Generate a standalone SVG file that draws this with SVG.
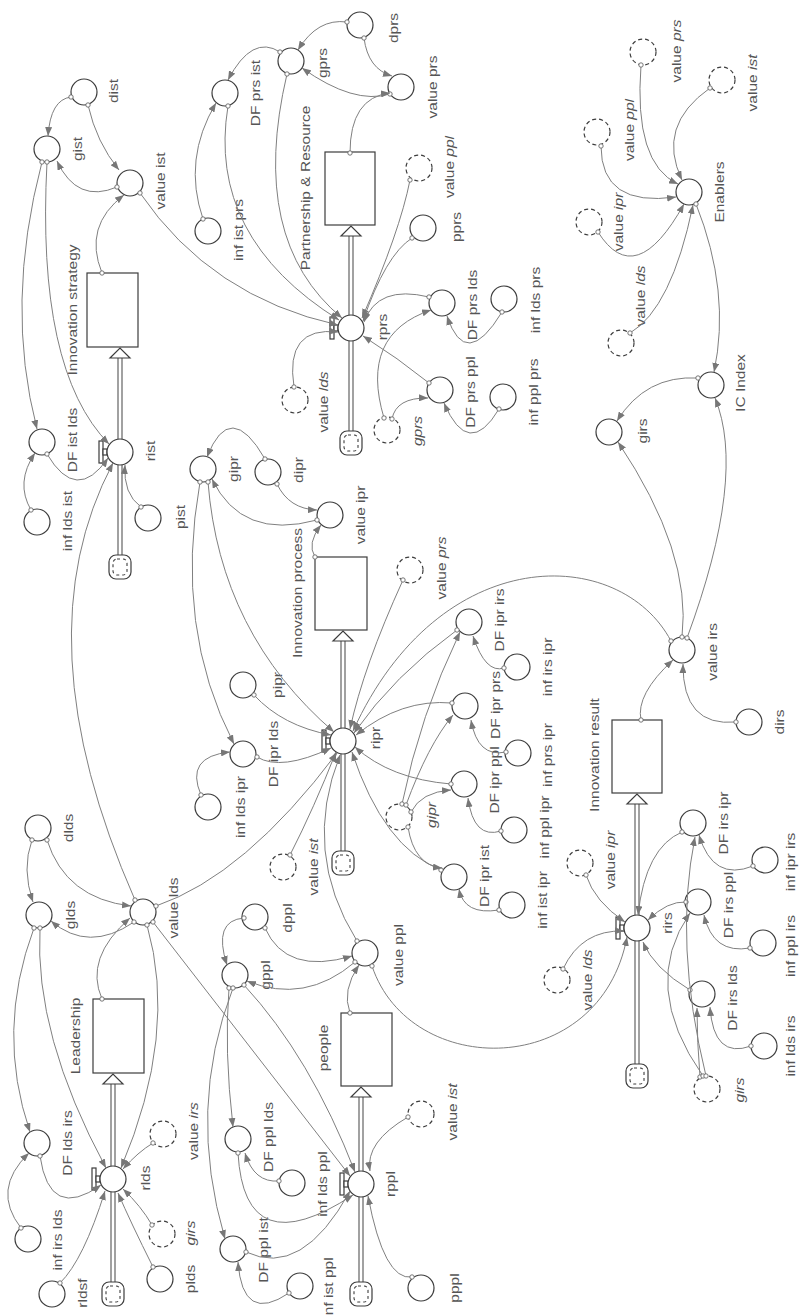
<svg xmlns="http://www.w3.org/2000/svg" width="799" height="1316" viewBox="0 0 799 1316">
<defs>
<marker id="ah" viewBox="0 0 9 7" refX="9" refY="3.5" markerWidth="9" markerHeight="7" markerUnits="userSpaceOnUse" orient="auto"><path d="M0,0 L9,3.5 L0,7 z" fill="#777"/></marker>
<marker id="tl" viewBox="0 0 6 6" refX="3" refY="3" markerWidth="6" markerHeight="6" markerUnits="userSpaceOnUse"><circle cx="3" cy="3" r="2.2" fill="#fff" stroke="#666" stroke-width="0.9"/></marker>
</defs>
<style>
.n circle,.n rect,.n polygon{fill:#fff;stroke:#3c3c3c;stroke-width:1.2}
.gh circle{stroke-dasharray:4 3}
text{font-family:"Liberation Sans",Arial,sans-serif;font-size:13.5px;fill:#555;text-anchor:middle;dominant-baseline:central}
.c path{fill:none;stroke:#808080;stroke-width:1;marker-start:url(#tl);marker-end:url(#ah)}
.pipe{fill:none;stroke:#444;stroke-width:5}
.pipei{fill:none;stroke:#fff;stroke-width:3}
.n rect.cli{fill:none;stroke-width:1.1;stroke-dasharray:3 3}
.it{font-style:italic}
</style>
<rect width="799" height="1316" fill="#fff"/>

<!-- stocks -->
<g id="InnovationStrategy" class="n"><rect x="87" y="273" width="51" height="74"/><text transform="translate(72 310) rotate(-90) scale(1.15 1)">Innovation strategy</text></g>
<g id="PartnershipResource" class="n"><rect x="325" y="152" width="50" height="73"/><text transform="translate(305 188) rotate(-90) scale(1.15 1)">Partnership &amp; Resource</text></g>
<g id="InnovationProcess" class="n"><rect x="315" y="557" width="52" height="73"/><text transform="translate(297 593) rotate(-90) scale(1.15 1)">Innovation process</text></g>
<g id="InnovationResult" class="n"><rect x="612" y="720" width="50" height="73"/><text transform="translate(594 755) rotate(-90) scale(1.15 1)">Innovation result</text></g>
<g id="Leadership" class="n"><rect x="93" y="999" width="51" height="74"/><text transform="translate(75 1036) rotate(-90) scale(1.15 1)">Leadership</text></g>
<g id="people" class="n"><rect x="341" y="1013" width="51" height="73"/><text transform="translate(323 1048) rotate(-90) scale(1.15 1)">people</text></g>

<!-- flows with pipes, valves, clouds -->
<g id="rist" class="n">
<path class="pipe" d="M120 556V358"/><path class="pipei" d="M120 556V358"/><polygon points="110,358 130,358 120,348"/>
<rect x="109" y="555" width="22" height="24" rx="7"/><rect class="cli" x="113" y="559" width="14" height="16" rx="4"/>
<rect x="99" y="441" width="4" height="22"/><rect x="103" y="449" width="4" height="6"/>
<circle cx="120" cy="452" r="13"/><text transform="translate(150 451) rotate(-90) scale(1.15 1)">rist</text></g>
<g id="rprs" class="n">
<path class="pipe" d="M351 432V236"/><path class="pipei" d="M351 432V236"/><polygon points="341,236 361,236 351,226"/>
<rect x="340" y="431" width="22" height="24" rx="7"/><rect class="cli" x="344" y="435" width="14" height="16" rx="4"/>
<rect x="330" y="317" width="4" height="22"/><rect x="334" y="325" width="4" height="6"/>
<circle cx="351" cy="328" r="13"/><text transform="translate(382 327) rotate(-90) scale(1.15 1)">rprs</text></g>
<g id="ripr" class="n">
<path class="pipe" d="M343 852V641"/><path class="pipei" d="M343 852V641"/><polygon points="333,641 353,641 343,631"/>
<rect x="332" y="851" width="22" height="24" rx="7"/><rect class="cli" x="336" y="855" width="14" height="16" rx="4"/>
<rect x="322" y="730" width="4" height="22"/><rect x="326" y="738" width="4" height="6"/>
<circle cx="343" cy="741" r="13"/><text transform="translate(375 738) rotate(-90) scale(1.15 1)">ripr</text></g>
<g id="rirs" class="n">
<path class="pipe" d="M637 1065V804"/><path class="pipei" d="M637 1065V804"/><polygon points="627,804 647,804 637,794"/>
<rect x="626" y="1064" width="22" height="24" rx="7"/><rect class="cli" x="630" y="1068" width="14" height="16" rx="4"/>
<rect x="616" y="917" width="4" height="22"/><rect x="620" y="925" width="4" height="6"/>
<circle cx="637" cy="928" r="13"/><text transform="translate(667 923) rotate(-90) scale(1.15 1)">rirs</text></g>
<g id="rlds" class="n">
<path class="pipe" d="M113 1283V1084"/><path class="pipei" d="M113 1283V1084"/><polygon points="103,1084 123,1084 113,1074"/>
<rect x="102" y="1282" width="22" height="24" rx="7"/><rect class="cli" x="106" y="1286" width="14" height="16" rx="4"/>
<rect x="92" y="1168" width="4" height="22"/><rect x="96" y="1176" width="4" height="6"/>
<circle cx="113" cy="1179" r="13"/><text transform="translate(145 1178) rotate(-90) scale(1.15 1)">rlds</text></g>
<g id="rppl" class="n">
<path class="pipe" d="M361 1283V1097"/><path class="pipei" d="M361 1283V1097"/><polygon points="351,1097 371,1097 361,1087"/>
<rect x="350" y="1282" width="22" height="24" rx="7"/><rect class="cli" x="354" y="1286" width="14" height="16" rx="4"/>
<rect x="340" y="1173" width="4" height="22"/><rect x="344" y="1181" width="4" height="6"/>
<circle cx="361" cy="1184" r="13"/><text transform="translate(390 1184) rotate(-90) scale(1.15 1)">rppl</text></g>

<!-- auxiliaries -->
<g id="dist" class="n"><circle cx="84" cy="92" r="13"/><text transform="translate(113 91) rotate(-90) scale(1.15 1)">dist</text></g>
<g id="gist" class="n"><circle cx="47" cy="149" r="13"/><text transform="translate(77 149) rotate(-90) scale(1.15 1)">gist</text></g>
<g id="value_ist" class="n"><circle cx="130" cy="183" r="13"/><text transform="translate(160 181) rotate(-90) scale(1.15 1)">value ist</text></g>
<g id="DF_ist_lds" class="n"><circle cx="42" cy="442" r="13"/><text transform="translate(72 440) rotate(-90) scale(1.15 1)">DF ist lds</text></g>
<g id="inf_lds_ist" class="n"><circle cx="37" cy="522" r="13"/><text transform="translate(67 521) rotate(-90) scale(1.15 1)">inf lds ist</text></g>
<g id="pist" class="n"><circle cx="148" cy="518" r="13"/><text transform="translate(180 517) rotate(-90) scale(1.15 1)">pist</text></g>
<g id="gipr" class="n"><circle cx="203" cy="469" r="13"/><text transform="translate(233 469) rotate(-90) scale(1.15 1)">gipr</text></g>
<g id="dipr" class="n"><circle cx="268" cy="472" r="13"/><text transform="translate(298 470) rotate(-90) scale(1.15 1)">dipr</text></g>
<g id="value_ipr" class="n"><circle cx="330" cy="515" r="13"/><text transform="translate(360 515) rotate(-90) scale(1.15 1)">value ipr</text></g>
<g id="dprs" class="n"><circle cx="360" cy="25" r="13"/><text transform="translate(393 28) rotate(-90) scale(1.15 1)">dprs</text></g>
<g id="gprs" class="n"><circle cx="291" cy="61" r="13"/><text transform="translate(322 63) rotate(-90) scale(1.15 1)">gprs</text></g>
<g id="DF_prs_ist" class="n"><circle cx="225" cy="93" r="13"/><text transform="translate(255 93) rotate(-90) scale(1.15 1)">DF prs ist</text></g>
<g id="inf_ist_prs" class="n"><circle cx="208" cy="231" r="13"/><text transform="translate(238 230) rotate(-90) scale(1.15 1)">inf ist prs</text></g>
<g id="value_prs" class="n"><circle cx="401" cy="87" r="13"/><text transform="translate(432 87) rotate(-90) scale(1.15 1)">value prs</text></g>
<g id="pprs" class="n"><circle cx="423" cy="228" r="13"/><text transform="translate(456 227) rotate(-90) scale(1.15 1)">pprs</text></g>
<g id="DF_prs_lds" class="n"><circle cx="442" cy="303" r="13"/><text transform="translate(472 305) rotate(-90) scale(1.15 1)">DF prs lds</text></g>
<g id="inf_lds_prs" class="n"><circle cx="504" cy="299" r="13"/><text transform="translate(535 300) rotate(-90) scale(1.15 1)">inf lds prs</text></g>
<g id="DF_prs_ppl" class="n"><circle cx="440" cy="390" r="13"/><text transform="translate(470 392) rotate(-90) scale(1.15 1)">DF prs ppl</text></g>
<g id="inf_ppl_prs" class="n"><circle cx="503" cy="397" r="13"/><text transform="translate(533 392) rotate(-90) scale(1.15 1)">inf ppl prs</text></g>
<g id="Enablers" class="n"><circle cx="689" cy="192" r="13"/><text transform="translate(719 192) rotate(-90) scale(1.15 1)">Enablers</text></g>
<g id="IC_Index" class="n"><circle cx="711" cy="385" r="13"/><text transform="translate(740 383) rotate(-90) scale(1.15 1)">IC Index</text></g>
<g id="girs" class="n"><circle cx="609" cy="432" r="13"/><text transform="translate(642 431) rotate(-90) scale(1.15 1)">girs</text></g>
<g id="value_irs" class="n"><circle cx="682" cy="650" r="13"/><text transform="translate(712 652) rotate(-90) scale(1.15 1)">value irs</text></g>
<g id="dirs" class="n"><circle cx="749" cy="722" r="13"/><text transform="translate(779 722) rotate(-90) scale(1.15 1)">dirs</text></g>
<g id="DF_ipr_irs" class="n"><circle cx="469" cy="622" r="13"/><text transform="translate(499 620) rotate(-90) scale(1.15 1)">DF ipr irs</text></g>
<g id="inf_irs_ipr" class="n"><circle cx="517" cy="667" r="13"/><text transform="translate(547 667) rotate(-90) scale(1.15 1)">inf irs ipr</text></g>
<g id="DF_ipr_prs" class="n"><circle cx="465" cy="706" r="13"/><text transform="translate(495 705) rotate(-90) scale(1.15 1)">DF ipr prs</text></g>
<g id="inf_prs_ipr" class="n"><circle cx="518" cy="753" r="13"/><text transform="translate(547 755) rotate(-90) scale(1.15 1)">inf prs ipr</text></g>
<g id="DF_ipr_ppl" class="n"><circle cx="464" cy="784" r="13"/><text transform="translate(494 780) rotate(-90) scale(1.15 1)">DF ipr ppl</text></g>
<g id="inf_ppl_ipr" class="n"><circle cx="514" cy="830" r="13"/><text transform="translate(544 827) rotate(-90) scale(1.15 1)">inf ppl ipr</text></g>
<g id="DF_ipr_ist" class="n"><circle cx="454" cy="877" r="13"/><text transform="translate(484 876) rotate(-90) scale(1.15 1)">DF ipr ist</text></g>
<g id="inf_ist_ipr" class="n"><circle cx="512" cy="905" r="13"/><text transform="translate(542 900) rotate(-90) scale(1.15 1)">inf ist ipr</text></g>
<g id="pipr" class="n"><circle cx="243" cy="685" r="13"/><text transform="translate(277 685) rotate(-90) scale(1.15 1)">pipr</text></g>
<g id="DF_ipr_lds" class="n"><circle cx="243" cy="754" r="13"/><text transform="translate(273 754) rotate(-90) scale(1.15 1)">DF ipr lds</text></g>
<g id="inf_lds_ipr" class="n"><circle cx="208" cy="807" r="13"/><text transform="translate(240 807) rotate(-90) scale(1.15 1)">inf lds ipr</text></g>
<g id="dlds" class="n"><circle cx="38" cy="828" r="13"/><text transform="translate(68 828) rotate(-90) scale(1.15 1)">dlds</text></g>
<g id="glds" class="n"><circle cx="39" cy="915" r="13"/><text transform="translate(70 915) rotate(-90) scale(1.15 1)">glds</text></g>
<g id="value_lds" class="n"><circle cx="143" cy="912" r="13"/><text transform="translate(173 908) rotate(-90) scale(1.15 1)">value lds</text></g>
<g id="dppl" class="n"><circle cx="255" cy="917" r="13"/><text transform="translate(287 918) rotate(-90) scale(1.15 1)">dppl</text></g>
<g id="gppl" class="n"><circle cx="235" cy="975" r="13"/><text transform="translate(265 975) rotate(-90) scale(1.15 1)">gppl</text></g>
<g id="value_ppl" class="n"><circle cx="365" cy="953" r="13"/><text transform="translate(398 955) rotate(-90) scale(1.15 1)">value ppl</text></g>
<g id="DF_lds_irs" class="n"><circle cx="37" cy="1143" r="13"/><text transform="translate(67 1143) rotate(-90) scale(1.15 1)">DF lds irs</text></g>
<g id="inf_irs_lds" class="n"><circle cx="28" cy="1239" r="13"/><text transform="translate(57 1240) rotate(-90) scale(1.15 1)">inf irs lds</text></g>
<g id="rldsf" class="n"><circle cx="52" cy="1294" r="13"/><text transform="translate(82 1293) rotate(-90) scale(1.15 1)">rldsf</text></g>
<g id="plds" class="n"><circle cx="160" cy="1279" r="13"/><text transform="translate(190 1279) rotate(-90) scale(1.15 1)">plds</text></g>
<g id="DF_ppl_lds" class="n"><circle cx="238" cy="1139" r="13"/><text transform="translate(268 1137) rotate(-90) scale(1.15 1)">DF ppl lds</text></g>
<g id="inf_lds_ppl" class="n"><circle cx="292" cy="1183" r="13"/><text transform="translate(322 1184) rotate(-90) scale(1.15 1)">inf lds ppl</text></g>
<g id="DF_ppl_ist" class="n"><circle cx="233" cy="1249" r="13"/><text transform="translate(263 1250) rotate(-90) scale(1.15 1)">DF ppl ist</text></g>
<g id="inf_ist_ppl" class="n"><circle cx="300" cy="1286" r="13"/><text transform="translate(328 1288) rotate(-90) scale(1.15 1)">inf ist ppl</text></g>
<g id="pppl" class="n"><circle cx="421" cy="1288" r="13"/><text transform="translate(454 1288) rotate(-90) scale(1.15 1)">pppl</text></g>
<g id="DF_irs_ipr" class="n"><circle cx="693" cy="823" r="13"/><text transform="translate(723 823) rotate(-90) scale(1.15 1)">DF irs ipr</text></g>
<g id="inf_ipr_irs" class="n"><circle cx="765" cy="860" r="13"/><text transform="translate(790 862) rotate(-90) scale(1.15 1)">inf ipr irs</text></g>
<g id="DF_irs_ppl" class="n"><circle cx="698" cy="902" r="13"/><text transform="translate(728 905) rotate(-90) scale(1.15 1)">DF irs ppl</text></g>
<g id="inf_ppl_irs" class="n"><circle cx="763" cy="943" r="13"/><text transform="translate(790 946) rotate(-90) scale(1.15 1)">inf ppl irs</text></g>
<g id="DF_irs_lds" class="n"><circle cx="702" cy="994" r="13"/><text transform="translate(732 998) rotate(-90) scale(1.15 1)">DF irs lds</text></g>
<g id="inf_lds_irs" class="n"><circle cx="764" cy="1046" r="13"/><text transform="translate(790 1046) rotate(-90) scale(1.15 1)">inf lds irs</text></g>

<!-- shadow (ghost) variables -->
<g id="gh_value_lds_rprs" class="n gh"><circle cx="295" cy="400" r="13"/><text transform="translate(323 402) rotate(-90) scale(1.15 1)">value <tspan class="it">lds</tspan></text></g>
<g id="gh_gprs" class="n gh"><circle cx="387" cy="430" r="13"/><text class="it" transform="translate(417 431) rotate(-90) scale(1.15 1)">gprs</text></g>
<g id="gh_value_ppl_rprs" class="n gh"><circle cx="419" cy="168" r="13"/><text transform="translate(449 167) rotate(-90) scale(1.15 1)">value <tspan class="it">ppl</tspan></text></g>
<g id="gh_value_prs_en" class="n gh"><circle cx="643" cy="52" r="13"/><text transform="translate(676 51) rotate(-90) scale(1.15 1)">value <tspan class="it">prs</tspan></text></g>
<g id="gh_value_ist_en" class="n gh"><circle cx="722" cy="80" r="13"/><text transform="translate(752 83) rotate(-90) scale(1.15 1)">value <tspan class="it">ist</tspan></text></g>
<g id="gh_value_ppl_en" class="n gh"><circle cx="597" cy="132" r="13"/><text transform="translate(629 130) rotate(-90) scale(1.15 1)">value <tspan class="it">ppl</tspan></text></g>
<g id="gh_value_ipr_en" class="n gh"><circle cx="589" cy="222" r="13"/><text transform="translate(618 222) rotate(-90) scale(1.15 1)">value <tspan class="it">ipr</tspan></text></g>
<g id="gh_value_lds_en" class="n gh"><circle cx="621" cy="343" r="13"/><text transform="translate(640 296) rotate(-90) scale(1.15 1)">value <tspan class="it">lds</tspan></text></g>
<g id="gh_value_prs_ipr" class="n gh"><circle cx="410" cy="570" r="13"/><text transform="translate(441 568) rotate(-90) scale(1.15 1)">value <tspan class="it">prs</tspan></text></g>
<g id="gh_value_ist_ipr" class="n gh"><circle cx="283" cy="867" r="13"/><text transform="translate(313 867) rotate(-90) scale(1.15 1)">value <tspan class="it">ist</tspan></text></g>
<g id="gh_gipr" class="n gh"><circle cx="399" cy="817" r="13"/><text class="it" transform="translate(431 815) rotate(-90) scale(1.15 1)">gipr</text></g>
<g id="gh_value_ipr_irs" class="n gh"><circle cx="580" cy="863" r="13"/><text transform="translate(610 860) rotate(-90) scale(1.15 1)">value <tspan class="it">ipr</tspan></text></g>
<g id="gh_value_lds_irs" class="n gh"><circle cx="557" cy="980" r="13"/><text transform="translate(587 980) rotate(-90) scale(1.15 1)">value <tspan class="it">lds</tspan></text></g>
<g id="gh_girs_irs" class="n gh"><circle cx="707" cy="1089" r="13"/><text class="it" transform="translate(739 1090) rotate(-90) scale(1.15 1)">girs</text></g>
<g id="gh_value_irs_lds" class="n gh"><circle cx="163" cy="1134" r="13"/><text transform="translate(193 1131) rotate(-90) scale(1.15 1)">value <tspan class="it">irs</tspan></text></g>
<g id="gh_girs_lds" class="n gh"><circle cx="162" cy="1234" r="13"/><text class="it" transform="translate(190 1233) rotate(-90) scale(1.15 1)">girs</text></g>
<g id="gh_value_ist_ppl" class="n gh"><circle cx="421" cy="1114" r="13"/><text transform="translate(452 1112) rotate(-90) scale(1.15 1)">value <tspan class="it">ist</tspan></text></g>

<!-- connectors -->
<g id="connectors" class="c">
<path d="M71 97Q50.5 99.5 48 136"/>
<path d="M88 105Q96.5 142.5 119 170"/>
<path d="M117 187Q77 204 57 161"/>
<path d="M102 273Q83 226 124 195"/>
<path d="M140 193Q211 297 338 325"/>
<path d="M42 162Q4.5 304.5 37 429"/>
<path d="M47 162Q36 370 109 444"/>
<path d="M31 510Q15 482.5 35 453"/>
<path d="M47 454Q76.5 504 108 458"/>
<path d="M135 900Q20 638.5 113 463"/>
<path d="M141 507Q123 494 125 465"/>
<path d="M347 22Q317.5 18 298 50"/>
<path d="M364 38Q368 69 392 76"/>
<path d="M390 94Q354 105 302 68"/>
<path d="M280 52Q252 34 228 80"/>
<path d="M287 74Q248 240 342 318"/>
<path d="M203 219Q182.5 159 216 103"/>
<path d="M228 106Q206.5 237 339 320"/>
<path d="M350 153Q350 97.5 390 93"/>
<path d="M410 180Q400 231 362 318"/>
<path d="M412 238Q385.5 255 363 321"/>
<path d="M429 297Q377.5 284.5 364 322"/>
<path d="M429 383Q398 358 363 336"/>
<path d="M294 387Q284.5 326 338 332"/>
<path d="M384 418Q359 334.5 431 310"/>
<path d="M392 419Q396 397.5 428 398"/>
<path d="M502 312Q465.5 372 447 316"/>
<path d="M499 409Q468.5 460 444 403"/>
<path d="M265 459Q230 398 207 457"/>
<path d="M277 484Q289 509 317 510"/>
<path d="M317 520Q241.5 540.5 212 479"/>
<path d="M315 557Q306.5 543.5 321 525"/>
<path d="M200 482Q174 628 234 744"/>
<path d="M208 482Q220 634 334 732"/>
<path d="M254 695Q282.5 726 331 735"/>
<path d="M201 795Q184.5 756.5 230 752"/>
<path d="M257 757Q281 771.5 331 748"/>
<path d="M290 855Q314 808 336 752"/>
<path d="M156 906Q245 875.5 337 753"/>
<path d="M357 941Q301.5 852 340 755"/>
<path d="M403 580Q363.5 666.5 350 729"/>
<path d="M457 630Q394 675.5 354 733"/>
<path d="M452 703Q401.5 698.5 356 735"/>
<path d="M451 784Q390.5 779 355 747"/>
<path d="M441 870Q383.5 847.5 352 752"/>
<path d="M671 641C620 545 440 540 353 731"/>
<path d="M402 804Q420 715 460 632"/>
<path d="M406 805Q428 745 453 715"/>
<path d="M411 812Q421 792 451 790"/>
<path d="M408 827Q414 865 442 868"/>
<path d="M504 668Q485.5 674 473 636"/>
<path d="M506 752Q477.5 758 471 720"/>
<path d="M501 831Q473.5 839.5 468 798"/>
<path d="M499 910Q464 915.5 459 889"/>
<path d="M641 720Q635.5 694.5 673 660"/>
<path d="M736 722Q682.5 727 683 664"/>
<path d="M682 637Q692 552.5 618 442"/>
<path d="M687 638Q747 475.5 715 398"/>
<path d="M698 378Q645.5 375 617 421"/>
<path d="M696 204Q731 292 714 372"/>
<path d="M641 65Q633.5 163.5 678 184"/>
<path d="M710 88Q656 126 682 180"/>
<path d="M601 146Q601 207.5 676 197"/>
<path d="M598 232Q635.5 291.5 684 204"/>
<path d="M630 333Q671.5 308.5 693 205"/>
<path d="M32 840Q21.5 869 33 902"/>
<path d="M47 840Q65.5 898.5 131 906"/>
<path d="M134 922Q88.5 953 51 921"/>
<path d="M102 999Q84 958 130 918"/>
<path d="M34 928Q-4.5 1031 30 1132"/>
<path d="M40 928Q34 1034.5 106 1168"/>
<path d="M147 925Q178 1033.5 121 1168"/>
<path d="M153 922Q251.5 1049 350 1176"/>
<path d="M40 1156Q49.5 1221.5 101 1185"/>
<path d="M21 1228Q-9 1189.5 29 1153"/>
<path d="M60 1283Q83.5 1260 105 1191"/>
<path d="M153 1143Q138 1152 123 1169"/>
<path d="M152 1225Q141 1206 123 1189"/>
<path d="M153 1267Q130.5 1222 118 1193"/>
<path d="M244 918Q212.5 920.5 227 965"/>
<path d="M265 928Q286 975.5 352 956"/>
<path d="M355 962Q305 1004.5 247 981"/>
<path d="M350 1013Q341.5 990.5 359 965"/>
<path d="M229 988Q224 1050 233 1127"/>
<path d="M233 988Q186.5 1108 225 1239"/>
<path d="M244 985Q310.5 1057 355 1172"/>
<path d="M238 1153Q244.5 1266 353 1195"/>
<path d="M279 1181Q254 1183 245 1153"/>
<path d="M246 1252Q302 1278.5 350 1191"/>
<path d="M289 1293Q242.5 1324.5 238 1262"/>
<path d="M408 1117Q365 1142 370 1171"/>
<path d="M412 1277Q384 1281 368 1196"/>
<path d="M372 966C410 1080 600 1080 627 937"/>
<path d="M586 875Q594.5 901.5 625 922"/>
<path d="M563 969Q581.5 929.5 624 931"/>
<path d="M682 832Q645.5 847.5 638 915"/>
<path d="M686 902Q667.5 901 648 920"/>
<path d="M690 990Q653.5 968 643 942"/>
<path d="M700 1077Q697 1042 697 1008"/>
<path d="M703 1076Q639.5 985.5 690 913"/>
<path d="M706 1076Q673.5 943.5 695 837"/>
<path d="M753 866Q713 882 699 835"/>
<path d="M750 948Q713 954.5 704 915"/>
<path d="M751 1046Q713.5 1059.5 710 1007"/>
</g>
</svg>
